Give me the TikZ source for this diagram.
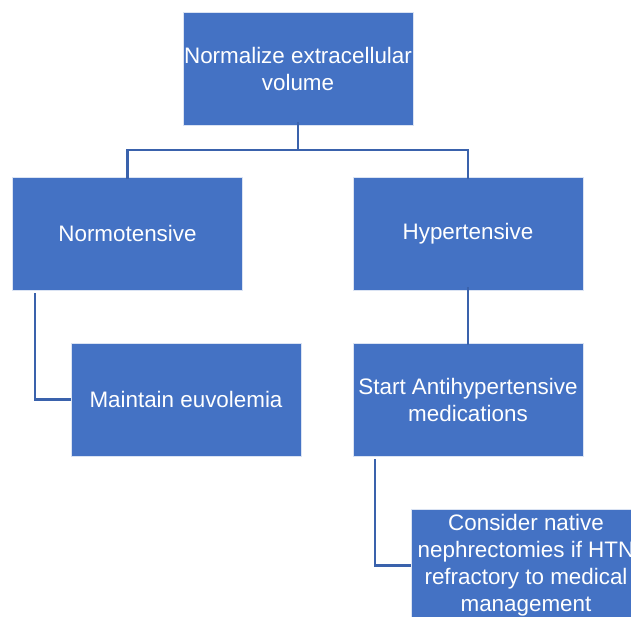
\documentclass[tikz,border=0pt]{standalone}
\usepackage{fontspec}
\setmainfont{Liberation Sans}
\usepackage{xcolor}
\usepackage{tikz}
\usetikzlibrary{calc}
\definecolor{boxblue}{HTML}{4472C4}
\definecolor{linkblue}{HTML}{3A62AC}

\begin{document}
\begin{tikzpicture}[x=1pt,y=-1pt,
    stepbox/.style={rectangle,fill=boxblue,draw=white!80!boxblue,line width=0.6pt,
      text=white,align=center,minimum width=230pt,minimum height=113pt,inner sep=0pt,
      font=\fontsize{22.4}{27}\selectfont},
    link/.style={draw=linkblue,line width=2.4pt}]
  \clip (0,0) rectangle (631,617);
  \node[stepbox] (volume) at (298,68.5) {Normalize extracellular\\volume};
  \node[stepbox] (normo) at (127.5,233.5) {Normotensive};
  \node[stepbox] (hyper) at (468,233.5) {Hypertensive};
  \node[stepbox] (euvol) at (186,399.5) {Maintain euvolemia};
  \node[stepbox] (meds) at (468,399.5) {Start Antihypertensive\\medications};
  \node[stepbox] (nephr) at (526,565.5) {Consider native\\nephrectomies if HTN\\refractory to medical\\management};
  \coordinate (split) at ($(volume.south)+(0,25)$);
  \draw[link] ([yshift=3pt]volume.south) -- (split);
  \draw[link] (split) -| ([yshift=-2pt]normo.north);
  \draw[link] (split) -| ([yshift=-2pt]hyper.north);
  \draw[link] ([shift={(23,3)}]normo.south west) |- (euvol.west);
  \draw[link] ([yshift=3pt]hyper.south) -- ([yshift=-2pt]meds.north);
  \draw[link] ([shift={(22,3)}]meds.south west) |- (nephr.west);
\end{tikzpicture}
\end{document}
